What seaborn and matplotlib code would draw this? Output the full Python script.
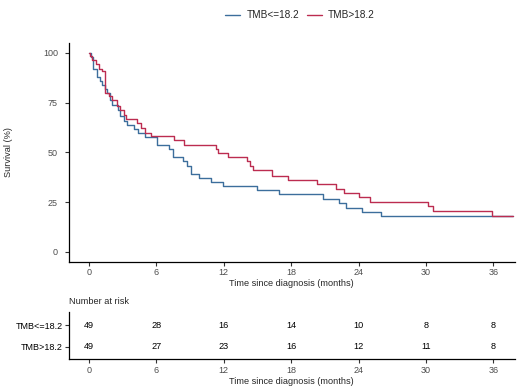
import matplotlib
matplotlib.use("Agg")
import matplotlib.pyplot as plt
import seaborn as sns
import pandas as pd
from matplotlib.lines import Line2D

# ---- data ----
groups = ["TMB<=18.2", "TMB>18.2"]
colors = ["#3C6E9C", "#BC2C50"]

low_time = [0, 0.2, 0.4, 0.7, 1.0, 1.2, 1.4, 1.6, 1.9, 2.1, 2.6, 2.8, 3.1, 3.4, 4.0, 4.4,
            5.0, 6.1, 7.1, 7.5, 8.4, 8.7, 9.1, 9.8, 10.9, 11.9, 15.0, 16.9, 20.8, 22.3,
            22.9, 24.3, 26.0, 37.7]
low_surv = [100, 97.9, 91.8, 87.8, 85.7, 83.7, 81.6, 79.6, 76.5, 74.0, 71.5, 68.1, 65.6, 63.5,
            61.6, 59.8, 57.8, 53.9, 51.8, 47.7, 45.5, 43.0, 39.2, 37.2, 35.2, 33.0, 31.0, 28.8,
            26.6, 24.3, 22.1, 20.1, 17.9, 17.9]

high_time = [0, 0.1, 0.3, 0.6, 0.9, 1.2, 1.45, 1.8, 2.1, 2.5, 2.8, 3.1, 3.3, 4.3, 4.6, 5.0,
             5.5, 7.6, 8.5, 11.3, 11.5, 12.4, 14.1, 14.3, 14.6, 16.3, 17.7, 20.3, 22.0, 22.7,
             24.0, 25.0, 30.2, 30.6, 35.9, 37.7]
high_surv = [100, 98.6, 96.3, 94.6, 92.0, 90.8, 79.9, 78.5, 76.5, 73.2, 71.5, 69.0, 66.5, 64.8,
             62.3, 59.8, 58.1, 56.1, 53.9, 51.9, 49.7, 47.4, 45.5, 43.0, 40.9, 38.3, 36.1, 34.2,
             31.7, 29.6, 27.3, 24.9, 22.8, 20.4, 17.9, 17.9]

risk_times = [0, 6, 12, 18, 24, 30, 36]
risk_low = [49, 28, 16, 14, 10, 8, 8]
risk_high = [49, 27, 23, 16, 12, 11, 8]
x_ticks = [0, 6, 12, 18, 24, 30, 36]
y_ticks = [0, 25, 50, 75, 100]

df = pd.concat([
    pd.DataFrame({"time": low_time, "surv": low_surv, "group": groups[0]}),
    pd.DataFrame({"time": high_time, "surv": high_surv, "group": groups[1]}),
], ignore_index=True)

sns.set_theme(style="white")
plt.rcParams["font.family"] = ["Liberation Sans", "DejaVu Sans"]

fig = plt.figure(figsize=(5.2, 3.9), dpi=100)
ax = fig.add_axes([0.132, 0.329, 0.858, 0.561])
ax2 = fig.add_axes([0.132, 0.079, 0.858, 0.122])

tick_col = "#4D4D4D"
sns.lineplot(data=df, x="time", y="surv", hue="group", hue_order=groups,
             palette=colors, drawstyle="steps-post", estimator=None, sort=False,
             linewidth=1.0, legend=False, ax=ax)

ax.set_xlim(-1.8, 37.9)
ax.set_ylim(-5, 105)
ax.set_xticks(x_ticks)
ax.set_yticks(y_ticks)
ax.set_xlabel("Time since diagnosis (months)", fontsize=6.6, labelpad=1.5)
ax.set_ylabel("Survival (%)", fontsize=6.6)
ax.yaxis.set_label_coords(-0.125, 0.5)
for a in (ax, ax2):
    for s in ["top", "right"]:
        a.spines[s].set_visible(False)
    for s in ["left", "bottom"]:
        a.spines[s].set_color("black")
        a.spines[s].set_linewidth(0.9)
    a.tick_params(axis="both", which="both", length=2.7, width=0.8, color="#333333",
                  labelcolor=tick_col, labelsize=6.5, pad=2, left=True, bottom=True)
ax.tick_params(axis="y", pad=5.0)

# risk table
ax2.set_xlim(-1.8, 37.9)
ax2.set_ylim(0.42, 2.62)
ax2.set_yticks([2, 1])
ax2.set_yticklabels(groups)
ax2.tick_params(axis="y", labelcolor="black", pad=1.8)
ax2.set_xticks(x_ticks)
ax2.set_xlabel("Time since diagnosis (months)", fontsize=6.6, labelpad=1.5)
for t, n in zip(risk_times, risk_low):
    ax2.text(t, 2, str(n), ha="center", va="center", fontsize=6.6, color="black")
for t, n in zip(risk_times, risk_high):
    ax2.text(t, 1, str(n), ha="center", va="center", fontsize=6.6, color="black")
fig.text(0.133, 1 - 301.7 / 390, "Number at risk", ha="left", va="center", fontsize=6.6)

handles = [Line2D([0], [0], color=c, lw=1.0) for c in colors]
fig.legend(handles, groups, loc="center", bbox_to_anchor=(0.577, 1 - 15 / 390), ncol=2,
           frameon=False, fontsize=7.2, handlelength=1.5, handletextpad=0.6,
           columnspacing=0.8)

fig.savefig("out.png", dpi=100)
